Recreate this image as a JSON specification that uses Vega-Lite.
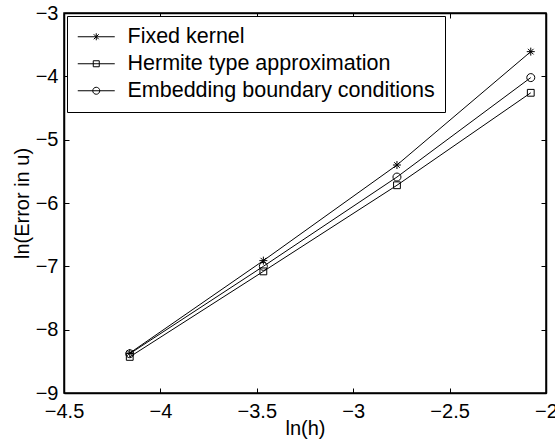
{
  "$schema": "https://vega.github.io/schema/vega-lite/v6.json",
  "width": 482,
  "height": 380,
  "autosize": "none",
  "padding": {"left": 64, "top": 13, "right": 9, "bottom": 51},
  "background": "white",
  "config": {
    "font": "Liberation Sans",
    "view": {"stroke": "black", "strokeWidth": 1.5},
    "axis": {
      "labelFont": "Liberation Sans",
      "titleFont": "Liberation Sans",
      "labelFontSize": 20,
      "titleFontSize": 20,
      "titleFontWeight": "normal",
      "labelColor": "black",
      "titleColor": "black",
      "tickColor": "black",
      "domainColor": "black",
      "domainWidth": 1.5,
      "tickWidth": 1,
      "tickSize": -5,
      "grid": false,
      "labelOverlap": false,
      "labelFlush": false,
      "labelBound": false,
      "format": "~g"
    }
  },
  "data": {
    "values": [
      {"series": "Fixed kernel", "lnh": -4.159, "lnerr": -8.37},
      {"series": "Fixed kernel", "lnh": -3.466, "lnerr": -6.91},
      {"series": "Fixed kernel", "lnh": -2.773, "lnerr": -5.40},
      {"series": "Fixed kernel", "lnh": -2.079, "lnerr": -3.61},
      {"series": "Hermite type approximation", "lnh": -4.159, "lnerr": -8.43},
      {"series": "Hermite type approximation", "lnh": -3.466, "lnerr": -7.08},
      {"series": "Hermite type approximation", "lnh": -2.773, "lnerr": -5.72},
      {"series": "Hermite type approximation", "lnh": -2.079, "lnerr": -4.26},
      {"series": "Embedding boundary conditions", "lnh": -4.159, "lnerr": -8.38},
      {"series": "Embedding boundary conditions", "lnh": -3.466, "lnerr": -7.00},
      {"series": "Embedding boundary conditions", "lnh": -2.773, "lnerr": -5.59},
      {"series": "Embedding boundary conditions", "lnh": -2.079, "lnerr": -4.02}
    ]
  },
  "resolve": {
    "axis": {"x": "independent", "y": "independent"},
    "scale": {"shape": "independent", "strokeWidth": "independent"}
  },
  "layer": [
    {
      "mark": {"type": "line", "color": "black"},
      "encoding": {
        "x": {"field": "lnh", "type": "quantitative",
              "scale": {"domain": [-4.5, -2], "nice": false, "zero": false},
              "axis": {"orient": "bottom", "title": "ln(h)", "values": [-4.5, -4, -3.5, -3, -2.5, -2], "labelPadding": 13, "titlePadding": -3}},
        "y": {"field": "lnerr", "type": "quantitative",
              "scale": {"domain": [-9, -3], "nice": false, "zero": false},
              "axis": {"orient": "left", "title": "ln(Error in u)", "values": [-9, -8, -7, -6, -5, -4, -3], "labelPadding": 11, "titlePadding": 3}},
        "detail": {"field": "series"},
        "strokeWidth": {"field": "series", "type": "nominal",
                        "scale": {"domain": ["Fixed kernel", "Hermite type approximation", "Embedding boundary conditions"], "range": [1, 1, 1.8]},
                        "legend": null}
      }
    },
    {
      "mark": {"type": "point", "filled": false, "color": "black", "size": 64, "opacity": 1},
      "encoding": {
        "x": {"field": "lnh", "type": "quantitative",
              "axis": {"orient": "top", "title": null, "labels": false, "values": [-4.5, -4, -3.5, -3, -2.5, -2]}},
        "y": {"field": "lnerr", "type": "quantitative",
              "axis": {"orient": "right", "title": null, "labels": false, "values": [-9, -8, -7, -6, -5, -4, -3]}},
        "shape": {"field": "series", "type": "nominal",
                  "scale": {"domain": ["Fixed kernel", "Hermite type approximation", "Embedding boundary conditions"],
                            "range": [
                              "M-1,0L1,0M0,-1L0,1M-0.7,-0.7L0.7,0.7M-0.7,0.7L0.7,-0.7",
                              "M-0.85,-0.85L0.85,-0.85L0.85,0.85L-0.85,0.85Z",
                              "M1,0A1,1 0 1,1 -1,0A1,1 0 1,1 1,0"
                            ]},
                  "legend": null},
        "strokeWidth": {"field": "series", "type": "nominal",
                        "scale": {"domain": ["Fixed kernel", "Hermite type approximation", "Embedding boundary conditions"], "range": [1, 1, 1.9]},
                        "legend": null}
      }
    },
    {
      "mark": {"type": "point", "filled": false, "color": "black", "size": 400, "opacity": 0},
      "encoding": {
        "x": {"field": "lnh", "type": "quantitative", "axis": null},
        "y": {"field": "lnerr", "type": "quantitative", "axis": null},
        "shape": {"field": "series", "type": "nominal",
                  "scale": {"domain": ["Fixed kernel", "Hermite type approximation", "Embedding boundary conditions"],
                            "range": [
                              "M-1,0L2.7,0M0.85,-0.35L0.85,0.35M0.6,-0.25L1.1,0.25M0.6,0.25L1.1,-0.25",
                              "M-1,0L2.7,0M0.55,-0.3L1.15,-0.3L1.15,0.3L0.55,0.3Z",
                              "M-1,0L2.7,0M1.2,0A0.35,0.35 0 1,1 0.5,0A0.35,0.35 0 1,1 1.2,0"
                            ]},
                  "legend": {
                    "title": null,
                    "orient": "top-left",
                    "offset": 3,
                    "padding": 10,
                    "strokeColor": "black",
                    "fillColor": "white",
                    "symbolSize": 400,
                    "symbolOpacity": 1,
                    "symbolStrokeColor": "black",
                    "symbolFillColor": "transparent",
                    "symbolStrokeWidth": 1,
                    "labelFont": "Liberation Sans",
                    "labelFontSize": 21.5,
                    "labelColor": "black",
                    "labelOffset": 29,
                    "rowPadding": 4,
                    "labelLimit": 400
                  }}
      }
    }
  ]
}
